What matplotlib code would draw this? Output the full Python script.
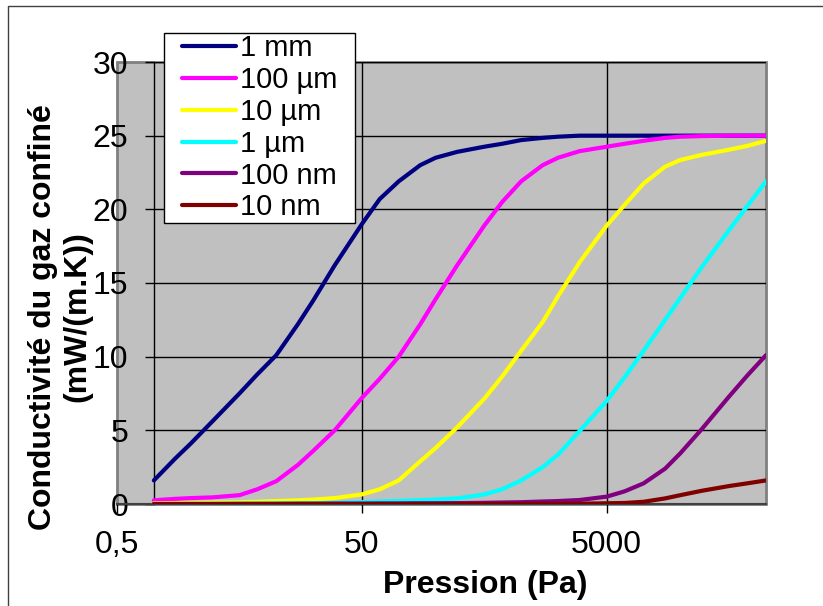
import matplotlib
matplotlib.use("Agg")
import matplotlib.pyplot as plt
from matplotlib.patches import Rectangle
from matplotlib.path import Path

plt.rcParams['font.family'] = ['Liberation Sans', 'DejaVu Sans']

# pressure (Pa) and confined gas conductivity (mW/(m.K))
pression = [1, 1.5, 2, 3, 5, 7, 10, 15, 20, 30,
            50, 70, 100, 150, 200, 300, 500, 700, 1000, 1500,
            2000, 3000, 5000, 7000, 1e4, 1.5e4, 2e4, 3e4, 5e4, 7e4, 1e5]

k_1mm = [1.6, 3.1, 4.1, 5.6, 7.5, 8.8, 10.1, 12.2, 13.8, 16.2,
         19.0, 20.7, 21.9, 23.0, 23.5, 23.9, 24.25, 24.45, 24.7, 24.85,
         24.93, 25.0, 25.0, 25.0, 25.0, 25.0, 25.0, 25.0, 25.0, 25.0, 25.0]
k_100um = [0.25, 0.35, 0.4, 0.45, 0.6, 1.0, 1.55, 2.65, 3.6, 5.0,
           7.2, 8.5, 10.0, 12.2, 13.9, 16.2, 18.9, 20.5, 21.9, 23.0,
           23.5, 23.95, 24.25, 24.45, 24.65, 24.85, 24.93, 24.97, 25.0, 25.0, 25.0]
k_10um = [0.05, 0.06, 0.08, 0.1, 0.12, 0.15, 0.2, 0.25, 0.3, 0.4,
          0.65, 1.0, 1.6, 2.9, 3.8, 5.2, 7.15, 8.65, 10.4, 12.35,
          14.1, 16.4, 18.9, 20.3, 21.75, 22.9, 23.35, 23.7, 24.05, 24.3, 24.65]
k_1um = [0.0, 0.0, 0.01, 0.01, 0.02, 0.03, 0.04, 0.05, 0.06, 0.08,
         0.13, 0.17, 0.21, 0.26, 0.3, 0.38, 0.65, 1.0, 1.6, 2.5,
         3.35, 4.95, 7.0, 8.6, 10.4, 12.5, 14.0, 16.1, 18.6, 20.2, 21.9]
k_100nm = [0.0, 0.0, 0.0, 0.0, 0.01, 0.01, 0.01, 0.02, 0.02, 0.03,
           0.03, 0.04, 0.04, 0.05, 0.05, 0.06, 0.08, 0.1, 0.12, 0.17,
           0.2, 0.27, 0.5, 0.86, 1.4, 2.4, 3.45, 5.1, 7.3, 8.7, 10.1]
k_10nm = [0.0, 0.0, 0.0, 0.0, 0.0, 0.0, 0.0, 0.0, 0.0, 0.0,
          0.0, 0.0, 0.0, 0.0, 0.0, 0.0, 0.0, 0.0, 0.0, 0.01,
          0.01, 0.02, 0.05, 0.07, 0.15, 0.38, 0.6, 0.9, 1.22, 1.4, 1.6]

labels = ["1 mm", "100 µm", "10 µm", "1 µm", "100 nm", "10 nm"]
colors = ["#000080", "#FF00FF", "#FFFF00", "#00FFFF", "#800080", "#800000"]
series = [k_1mm, k_100um, k_10um, k_1um, k_100nm, k_10nm]

xticks = [0.5, 50, 5000]
xticklabels = ["0,5", "50", "5000"]
yticks = [0, 5, 10, 15, 20, 25, 30]


class WideBox:
    # legend frame with extra room left and right only
    def __init__(self, padx):
        self.padx = padx

    def __call__(self, x0, y0, width, height, mutation_size):
        p = self.padx * mutation_size
        x1, y1 = x0 + width + p, y0 + height
        x0 = x0 - p
        return Path([(x0, y0), (x1, y0), (x1, y1), (x0, y1), (x0, y0)],
                    closed=True)


fig = plt.figure(figsize=(8.23, 6.06), dpi=100)
W, H = 823, 606
ax = fig.add_axes([117 / W, 102 / H, 649 / W, 442 / H])
ax.set_facecolor("#C0C0C0")
ax.set_xscale("log")
ax.set_xlim(0.5, 1e5)
ax.set_ylim(0, 30)

# grid lines (start at the y axis which crosses at 1 Pa)
ax.hlines(yticks[1:], 1, 1e5, color="black", lw=1, zorder=1)
ax.vlines(xticks[1:], 0, 30, color="black", lw=1, zorder=1)

for vals, lab, col in zip(series, labels, colors):
    ax.plot(pression, vals, color=col, lw=3, label=lab,
            solid_capstyle="round", solid_joinstyle="round", zorder=3)

# plot area border
ax.add_patch(Rectangle((0, 0), 1, 1, transform=ax.transAxes, fill=False,
                       edgecolor="#808080", lw=2, clip_on=False, zorder=0.5))
for s in ["top", "right"]:
    ax.spines[s].set_visible(False)
ax.spines["left"].set_position(("data", 1))
ax.spines["left"].set_color("black")
ax.spines["left"].set_linewidth(1)
ax.spines["bottom"].set_color("#404040")
ax.spines["bottom"].set_linewidth(1.5)

ax.set_xticks(xticks)
ax.set_xticklabels(xticklabels)
ax.xaxis.set_minor_locator(matplotlib.ticker.NullLocator())
ax.set_yticks(yticks)
ax.tick_params(axis="both", direction="out", length=6.5, width=1,
               color="black", labelsize=23, pad=12)

leg = ax.legend(loc="upper left", bbox_to_anchor=(180.5 / W, 1 - 33 / H),
                bbox_transform=fig.transFigure, borderaxespad=0,
                fontsize=21, frameon=True, fancybox=False, framealpha=1,
                edgecolor="black", handlelength=1.85, handletextpad=0.14,
                labelspacing=0.13, borderpad=0.05)
leg.get_frame().set_linewidth(1)
leg.get_frame().set_boxstyle(WideBox(0.565))
leg.set_zorder(10)

fig.text(60 / W, 1 - 317 / H, "Conductivité du gaz confiné\n(mW/(m.K))",
         rotation=90, ha="center", va="center", multialignment="center",
         fontsize=23, fontweight="bold", linespacing=1.2)
fig.text(485 / W, 1 - 585 / H, "Pression (Pa)", ha="center", va="center",
         fontsize=23, fontweight="bold")

# chart area border
fig.add_artist(Rectangle((8 / W, -0.1), 1.2, 1.1 - 6.5 / H,
                         transform=fig.transFigure, fill=False,
                         edgecolor="#404040", lw=1))

fig.savefig("out.png", dpi=100)
